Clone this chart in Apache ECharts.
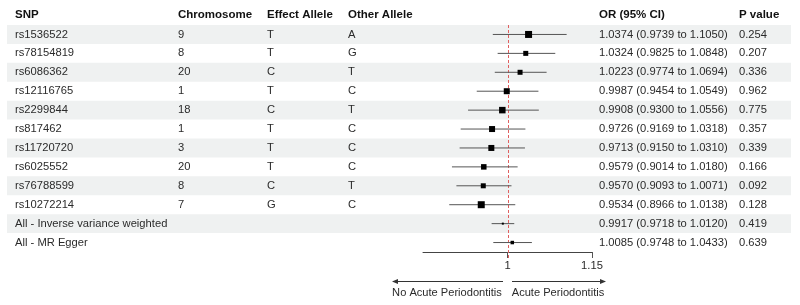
<!DOCTYPE html>
<html>
<head>
<meta charset="utf-8">
<script src="https://cdn.jsdelivr.net/npm/echarts@6/dist/echarts.min.js"></script>
<style>
  html, body { margin: 0; padding: 0; background: #fff; }
  #main { width: 800px; height: 305px; }
</style>
</head>
<body>
<div id="main"></div>
<script>
// 表格数据
var snps = ['rs1536522', 'rs78154819', 'rs6086362', 'rs12116765', 'rs2299844', 'rs817462',
    'rs11720720', 'rs6025552', 'rs76788599', 'rs10272214',
    'All - Inverse variance weighted', 'All - MR Egger'];
var chromosome = ['9', '8', '20', '1', '18', '1', '3', '20', '8', '7', '', ''];
var effectAllele = ['T', 'T', 'C', 'T', 'C', 'T', 'T', 'T', 'C', 'G', '', ''];
var otherAllele = ['A', 'G', 'T', 'C', 'T', 'C', 'C', 'C', 'T', 'C', '', ''];
var orValue = [1.0374, 1.0324, 1.0223, 0.9987, 0.9908, 0.9726, 0.9713, 0.9579, 0.9570, 0.9534, 0.9917, 1.0085];
var ciLower = [0.9739, 0.9825, 0.9774, 0.9454, 0.9300, 0.9169, 0.9150, 0.9014, 0.9093, 0.8966, 0.9718, 0.9748];
var ciUpper = [1.1050, 1.0848, 1.0694, 1.0549, 1.0556, 1.0318, 1.0310, 1.0180, 1.0071, 1.0138, 1.0120, 1.0433];
var pValue = ['0.254', '0.207', '0.336', '0.962', '0.775', '0.357', '0.339', '0.166', '0.092', '0.128', '0.419', '0.639'];
var headers = ['SNP', 'Chromosome', 'Effect Allele', 'Other Allele', 'OR (95% CI)', 'P value'];
var axisTicks = [1, 1.15];
var refValue = 1; // 无效线

// 样式
var FONT = '"Liberation Sans", Arial, sans-serif';
var colX = [8, 171, 260, 341, 592, 732]; // 列的左边位置（相对表格左边）
var boxSize = [7, 5, 5, 6, 6.5, 6, 6, 5.5, 5, 7, 2, 3.5];
var rowIdx = snps.map(function(s, i) { return i; });

function orText(i) {
    return orValue[i].toFixed(4) + ' (' + ciLower[i].toFixed(4) + ' to ' + ciUpper[i].toFixed(4) + ')';
}

// 表格文字
function renderRow(params, api) {
    var i = api.value(1);
    var y = api.coord([0, i])[1];
    var cells = [snps[i], chromosome[i], effectAllele[i], otherAllele[i], orText(i), pValue[i]];
    var children = [];
    for (var k = 0; k < cells.length; k++) {
        children.push({
            type: 'text',
            x: api.coord([colX[k], i])[0],
            y: y,
            style: {
                text: cells[k],
                fill: '#2b2b2b',
                fontFamily: FONT,
                fontSize: 11.2,
                align: 'left',
                verticalAlign: 'middle'
            }
        });
    }
    return { type: 'group', children: children };
}

// 森林图：置信区间 + 方块
function renderForest(params, api) {
    var i = api.value(0);
    var mid = api.coord([api.value(1), i]);
    var lo = api.coord([api.value(2), i]);
    var hi = api.coord([api.value(3), i]);
    var s = boxSize[i];
    return {
        type: 'group',
        children: [{
            type: 'line',
            shape: { x1: lo[0], y1: mid[1], x2: hi[0], y2: mid[1] },
            style: { stroke: '#555', lineWidth: 1 }
        }, {
            type: 'rect',
            shape: { x: mid[0] - s / 2, y: mid[1] - s / 2, width: s, height: s },
            style: { fill: '#000' }
        }]
    };
}

// 红色虚线 x = 1
function renderRef(params, api) {
    var cs = params.coordSys;
    var x = Math.round(api.coord([api.value(0), 0])[0]) + 0.5;
    return {
        type: 'line',
        shape: { x1: x, y1: cs.y, x2: x, y2: cs.y + cs.height + 6 },
        style: { stroke: '#e06060', lineWidth: 1, lineDash: [3, 2] }
    };
}

var myChart = echarts.init(document.getElementById('main'), null, { renderer: 'canvas' });

var option = {
    backgroundColor: '#fff',
    animation: false,
    grid: [
        { left: 7, width: 784, top: 25, height: 227 },
        { left: 423, width: 169, top: 25, height: 227 }
    ],
    xAxis: [{
        gridIndex: 0,
        type: 'value',
        min: 0,
        max: 784,
        position: 'top',
        axisLine: { show: false },
        axisTick: { show: false },
        splitLine: { show: false },
        axisLabel: {
            customValues: colX,
            align: 'left',
            margin: 4,
            color: '#111',
            fontWeight: 'bold',
            fontFamily: FONT,
            fontSize: 11.5,
            formatter: function(v) {
                return headers[colX.indexOf(v)];
            }
        }
    }, {
        gridIndex: 1,
        type: 'value',
        min: 0.85,
        max: 1.15,
        axisLine: { show: true, lineStyle: { color: '#444', width: 1 } },
        axisTick: { show: true, customValues: axisTicks, length: 6, lineStyle: { color: '#555' } },
        splitLine: { show: false },
        axisLabel: {
            customValues: axisTicks,
            margin: 8,
            color: '#2b2b2b',
            fontFamily: FONT,
            fontSize: 11.2,
            formatter: function(v) {
                return v === 1 ? '1' : String(v);
            }
        }
    }],
    yAxis: [{
        gridIndex: 0,
        type: 'category',
        inverse: true,
        data: rowIdx,
        axisLine: { show: false },
        axisTick: { show: false },
        axisLabel: { show: false },
        splitLine: { show: false },
        splitArea: { show: true, areaStyle: { color: ['#eff1f1', 'rgba(255,255,255,0)'] } }
    }, {
        gridIndex: 1,
        type: 'category',
        inverse: true,
        data: rowIdx,
        show: false
    }],
    series: [{
        type: 'custom',
        xAxisIndex: 0,
        yAxisIndex: 0,
        renderItem: renderRow,
        encode: { x: 0, y: 1 },
        data: rowIdx.map(function(i) { return [0, i]; }),
        silent: true
    }, {
        type: 'custom',
        xAxisIndex: 1,
        yAxisIndex: 1,
        renderItem: renderRef,
        encode: { x: 0 },
        data: [[refValue]],
        clip: false,
        z: 2,
        silent: true
    }, {
        type: 'custom',
        xAxisIndex: 1,
        yAxisIndex: 1,
        renderItem: renderForest,
        encode: { x: [1, 2, 3], y: 0 },
        data: rowIdx.map(function(i) { return [i, orValue[i], ciLower[i], ciUpper[i]]; }),
        z: 3,
        silent: true
    }],
    graphic: [
        // 左箭头
        { type: 'line', shape: { x1: 396, y1: 281.5, x2: 503, y2: 281.5 }, style: { stroke: '#333', lineWidth: 1 } },
        { type: 'polygon', shape: { points: [[392, 281.5], [398, 279], [398, 284]] }, style: { fill: '#333' } },
        // 右箭头
        { type: 'line', shape: { x1: 512, y1: 281.5, x2: 602, y2: 281.5 }, style: { stroke: '#333', lineWidth: 1 } },
        { type: 'polygon', shape: { points: [[606, 281.5], [600, 279], [600, 284]] }, style: { fill: '#333' } },
        {
            type: 'text', x: 447, y: 293,
            style: { text: 'No Acute Periodontitis', fill: '#2b2b2b', fontFamily: FONT, fontSize: 11.1, align: 'center', verticalAlign: 'middle' }
        },
        {
            type: 'text', x: 558, y: 293,
            style: { text: 'Acute Periodontitis', fill: '#2b2b2b', fontFamily: FONT, fontSize: 11.1, align: 'center', verticalAlign: 'middle' }
        }
    ]
};
myChart.setOption(option);
</script>
</body>
</html>
